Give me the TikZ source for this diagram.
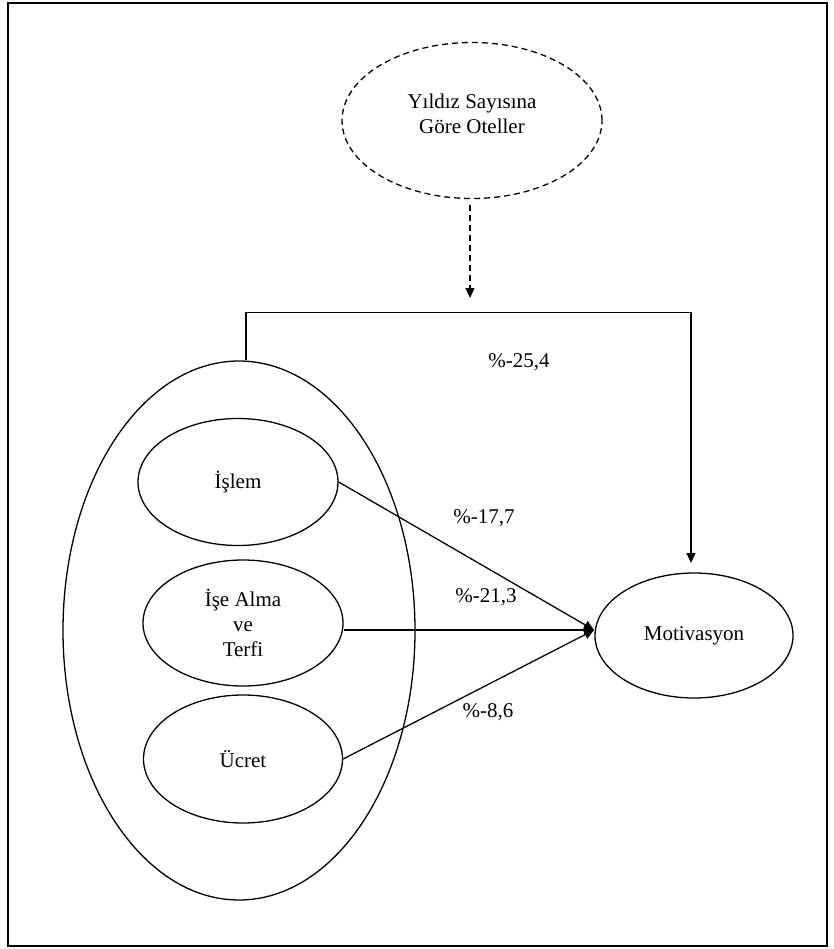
\documentclass[tikz,border=0pt]{standalone}
\usepackage{fontspec}
\setmainfont{Liberation Serif}
\usetikzlibrary{shapes.geometric,arrows.meta}
\begin{document}
\begin{tikzpicture}[x=1pt,y=-1pt,
  every node/.style={font=\fontsize{21}{25}\selectfont},
  oval/.style={ellipse,draw,line width=1.3pt,inner sep=0pt,align=center},
  conn/.style={line width=1.3pt},
  tipA/.style={-{Triangle[length=10pt,width=9pt]}},
  lbl/.style={inner sep=0pt}]
\useasboundingbox (0,0) rectangle (834,949);
\draw[line width=2.2pt] (8,3) rectangle (827,946);
% nodes
\node[oval,dashed,dash pattern=on 6pt off 4pt,minimum width=260pt,minimum height=156pt] (top) at (472,120.5) {};
\node[align=center,inner sep=0pt] (toptext) at (472,114) {Yıldız Sayısına\\Göre Oteller};
\node[oval,minimum width=352pt,minimum height=539pt] (big) at (239,630.5) {};
\node[oval,minimum width=200pt,minimum height=127pt] (islem) at (238,482) {İşlem};
\node[oval,minimum width=200pt,minimum height=126pt] (ise) at (243,623) {İşe Alma\\ve\\Terfi};
\node[oval,minimum width=199pt,minimum height=128pt] (ucret) at (243,759) {Ücret};
\node[oval,minimum width=198pt,minimum height=125pt] (mot) at (694,635.5) {Motivasyon};
% coordinates
\coordinate (tip) at (594,630);
\coordinate (dtip) at (470,298);
\coordinate (atip) at (691,563);
% connectors
\draw[conn,dashed,dash pattern=on 6pt off 4pt,tipA] ([yshift=-6pt]top.south -| dtip) -- (dtip);
\draw[conn,tipA] ([xshift=7pt]big.north) -- ++(0,-48) -| (atip);
\draw[conn,tipA] (islem.east) -- (tip);
\draw[conn,tipA] (ise.east |- tip) -- (tip);
\draw[conn,tipA] (ucret.east) -- (tip);
% labels
\node[lbl] (l1) at (519,362) {\%-25,4};
\node[lbl] (l2) at (484,518) {\%-17,7};
\node[lbl] (l3) at (486,597) {\%-21,3};
\node[lbl] (l4) at (488,712) {\%-8,6};
\end{tikzpicture}
\end{document}
